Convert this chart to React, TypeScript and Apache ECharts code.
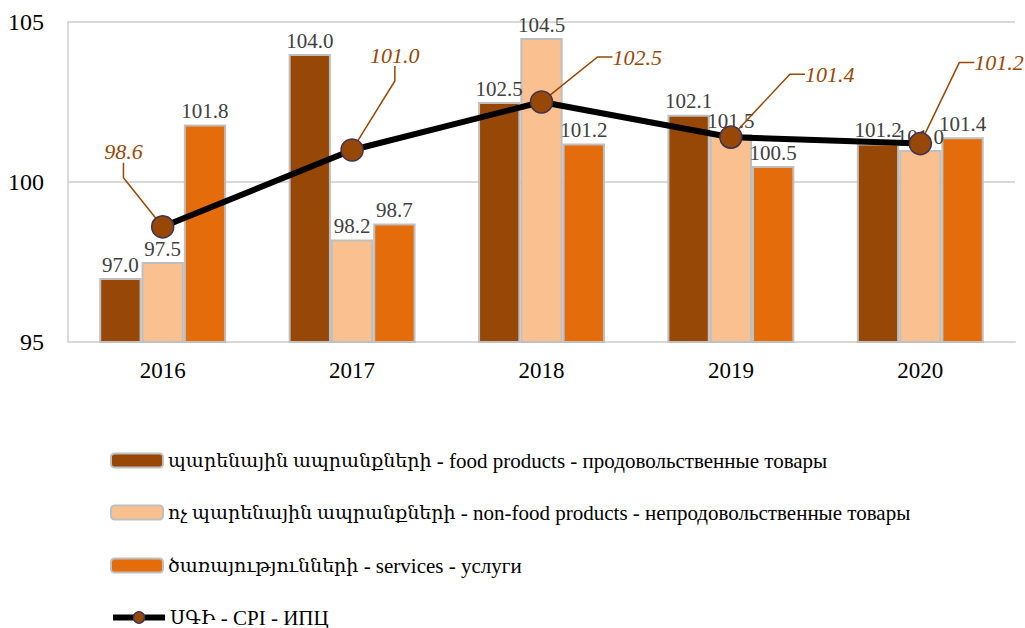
import React, { useEffect, useRef } from "react";
import * as echarts from "echarts";

const categories = ["2016", "2017", "2018", "2019", "2020"];
const food = [97.0, 104.0, 102.5, 102.1, 101.2];
const nonFood = [97.5, 98.2, 104.5, 101.5, 101.0];
const services = [101.8, 98.7, 101.2, 100.5, 101.4];
const cpi = [98.6, 101.0, 102.5, 101.4, 101.2];
const seriesNames = [
  "պարենային ապրանքների - food products - продовольственные товары",
  "ոչ պարենային ապրանքների - non-food products - непродовольственные товары",
  "ծառայությունների - services - услуги",
  "ՍԳԻ - CPI - ИПЦ",
];
const cpiLabelOffsets = [
  [-20, -75, "right"],
  [18, -95, "left"],
  [71, -45, "left"],
  [74, -63, "left"],
  [54, -81, "left"],
];
const legendTops = [450, 502, 555, 607];

const FONT = '"Liberation Serif", "DejaVu Serif", serif';

export default function App() {
  const ref = useRef<HTMLDivElement>(null);
  useEffect(() => {
    const chart = echarts.init(ref.current!, undefined, { renderer: "svg" });
    const barLabel = {
      show: true,
      position: "top",
      distance: 3,
      color: "#404040",
      fontSize: 21,
      fontFamily: FONT,
      formatter: (p: any) => p.value.toFixed(1),
    };
    const barItem = (color: string) => ({ color, borderColor: "#BFBFBF", borderWidth: 2 });
    const legends = seriesNames.map((name, i) => ({
      orient: "vertical",
      left: 110,
      top: legendTops[i],
      padding: 0,
      itemWidth: 52,
      itemHeight: 14,
      itemGap: 7,
      formatter: (n: string) => {
        const k = n.indexOf(" - ");
        return "{a|" + n.slice(0, k) + "}{b|" + n.slice(k) + "}";
      },
      textStyle: {
        fontSize: 19,
        color: "#000",
        fontFamily: FONT,
        rich: {
          a: { fontSize: 19, lineHeight: 20, color: "#000", fontFamily: FONT },
          b: { fontSize: 21, lineHeight: 20, color: "#000", fontFamily: FONT },
        },
      },
      data: [
        i === 3
          ? { name, lineStyle: { color: "#000", width: 6 }, itemStyle: { color: "#974706", borderColor: "#3F3151", borderWidth: 1.5 } }
          : name,
      ],
    }));
    chart.setOption({
      animation: false,
      textStyle: { fontFamily: FONT },
      grid: { left: 68, right: 10, top: 22, bottom: 286, containLabel: false },
      legend: legends,
      xAxis: {
        type: "category",
        data: categories,
        axisLine: { lineStyle: { color: "#D9D9D9", width: 2 } },
        axisTick: { show: false },
        axisLabel: { fontSize: 23, color: "#000", margin: 17, fontFamily: FONT },
      },
      yAxis: {
        type: "value",
        min: 95,
        max: 105,
        interval: 5,
        axisLine: { show: true, lineStyle: { color: "#D9D9D9", width: 2 } },
        axisTick: { show: false },
        splitLine: { lineStyle: { color: "#D9D9D9", width: 2 } },
        axisLabel: { fontSize: 24, color: "#000", margin: 24, fontFamily: FONT },
      },
      series: [
        {
          name: seriesNames[0],
          type: "bar",
          data: food,
          barGap: "0%",
          barCategoryGap: "33%",
          itemStyle: barItem("#974706"),
          label: barLabel,
        },
        {
          name: seriesNames[1],
          type: "bar",
          data: nonFood,
          itemStyle: barItem("#FAC090"),
          label: barLabel,
        },
        {
          name: seriesNames[2],
          type: "bar",
          data: services,
          itemStyle: barItem("#E46C0A"),
          label: barLabel,
        },
        {
          name: seriesNames[3],
          type: "line",
          data: cpi,
          z: 10,
          symbol: "circle",
          symbolSize: 22,
          lineStyle: { color: "#000", width: 6 },
          itemStyle: { color: "#974706", borderColor: "#3F3151", borderWidth: 1.5 },
          label: {
            show: true,
            fontSize: 22,
            fontStyle: "italic",
            color: "#974706",
            fontFamily: FONT,
            formatter: (p: any) => p.value.toFixed(1),
          },
          labelLine: { show: true, length2: 15, lineStyle: { color: "#974706", width: 1.5 } },
          labelLayout: (p: any) => {
            const o = cpiLabelOffsets[p.dataIndex];
            const cx = p.rect.x + p.rect.width / 2;
            const cy = p.rect.y + p.rect.height / 2;
            return { x: cx + (o[0] as number), y: cy + (o[1] as number), align: o[2], verticalAlign: "middle" };
          },
        },
      ],
    });
    return () => chart.dispose();
  }, []);
  return (
    <div
      ref={ref}
      style={{ position: "fixed", left: 0, top: 0, width: 1025, height: 628, background: "#fff" }}
    />
  );
}
